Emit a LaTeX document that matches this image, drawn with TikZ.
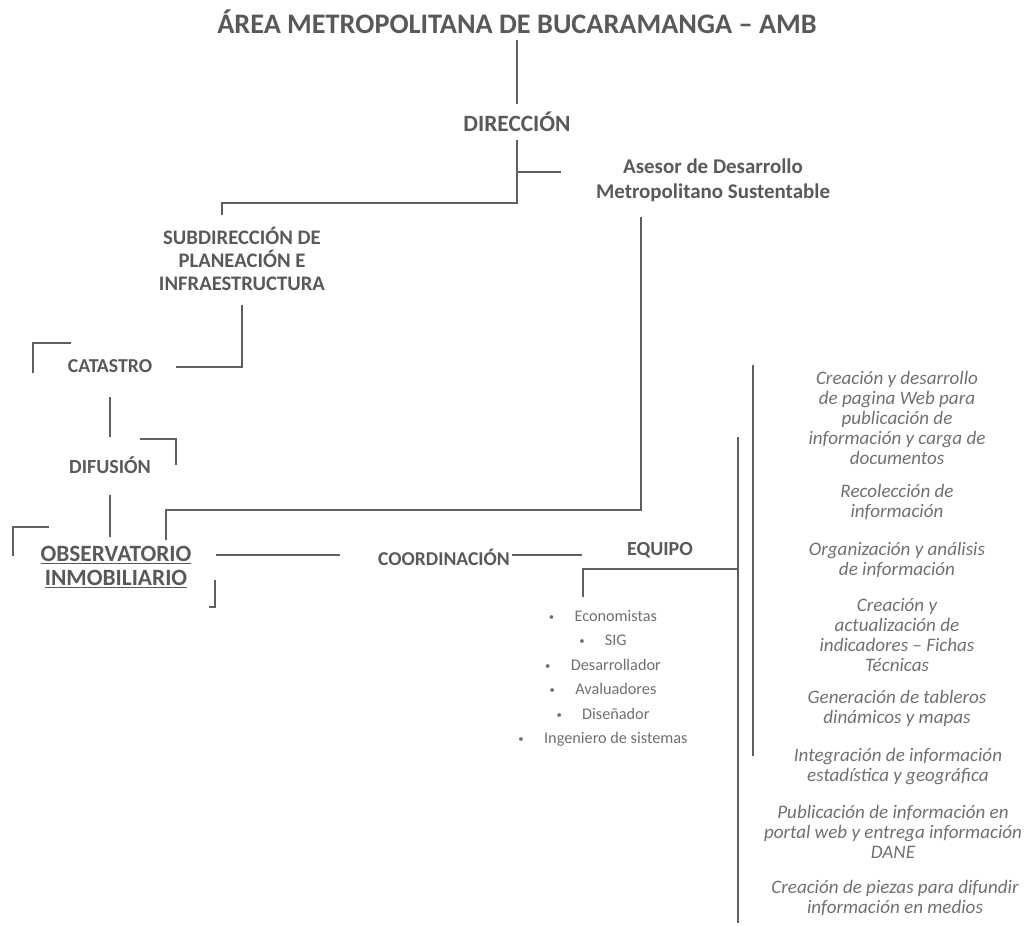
\documentclass[tikz,border=0pt]{standalone}
\usepackage{fontspec}
\setmainfont{Carlito}
\usetikzlibrary{calc}
\definecolor{txt}{HTML}{595959}
\definecolor{ltxt}{HTML}{707070}
\definecolor{ln}{HTML}{5F5F5F}
\newcommand{\fs}[2]{\fontsize{#1}{#2}\selectfont}
\newcommand{\bul}{{\fs{8}{8}\raisebox{0.15ex}{•}}\hspace{1.25em}}
\begin{document}
\begin{tikzpicture}[x=0.75pt,y=-0.75pt,
  conn/.style={draw=ln,line width=1.3pt},
  hd/.style={text=txt,font=\bfseries,inner sep=0pt,align=center},
  act/.style={text=ltxt,font=\itshape\fs{14.3}{15},inner sep=0pt,align=center},
  mem/.style={text=ltxt,font=\fs{12.2}{13},inner sep=0pt,anchor=base}]
\useasboundingbox (0,0) rectangle (1032,926);
% nodes
\node[hd,font=\bfseries\fs{21.2}{25}] (title) at (517,22) {ÁREA METROPOLITANA DE BUCARAMANGA – AMB};
\node[hd,font=\bfseries\fs{17.5}{21}] (dir) at (517,122) {DIRECCIÓN};
\node[hd,font=\bfseries\fs{15.7}{19}] (ase) at (713,180) {Asesor de Desarrollo\\Metropolitano Sustentable};
\node[hd,font=\bfseries\fs{15.5}{17.3}] (sub) at (242,259) {SUBDIRECCIÓN DE\\PLANEACIÓN E\\INFRAESTRUCTURA};
\node[hd,font=\bfseries\fs{14.8}{17}] (cat) at (110,366) {CATASTRO};
\node[hd,font=\bfseries\fs{15}{17}] (dif) at (110,465) {DIFUSIÓN};
\node[hd,font=\bfseries\fs{17.5}{18}] (obs) at (116,567) {\underline{OBSERVATORIO}\\[0pt]\underline{INMOBILIARIO}};
\node[hd,font=\bfseries\fs{14.7}{17}] (coo) at (444,557) {COORDINACIÓN};
\node[hd,font=\bfseries\fs{15}{17}] (equ) at (660,550) {EQUIPO};
% team members
\node[mem] (m1) at (603,621) {\bul Economistas};
\node[mem] (m2) at (603,645) {\bul SIG};
\node[mem] (m3) at (603,670) {\bul Desarrollador};
\node[mem] (m4) at (603,694) {\bul Avaluadores};
\node[mem] (m5) at (603,719) {\bul Diseñador};
\node[mem] (m6) at (603,743) {\bul Ingeniero de sistemas};
% activities
\node[act] (a1) at (897,418) {Creación y desarrollo\\de pagina Web para\\publicación de\\información y carga de\\documentos};
\node[act] (a2) at (897,502) {Recolección de\\información};
\node[act] (a3) at (897,560) {Organización y análisis\\de información};
\node[act] (a4) at (897,635) {Creación y\\actualización de\\indicadores – Fichas\\Técnicas};
\node[act] (a5) at (897,708) {Generación de tableros\\dinámicos y mapas};
\node[act] (a6) at (898,766) {Integración de información\\estadística y geográfica};
\node[act] (a7) at (893,832) {Publicación de información en\\portal web y entrega información\\DANE};
\node[act] (a8) at (895,898) {Creación de piezas para difundir\\información en medios};
% connector coordinates
\coordinate (t1) at (517,40);
\coordinate (d1) at (517,104);
\coordinate (d2) at (517,140);
\coordinate (d3) at (517,203);
\coordinate (d4) at (222,203);
\coordinate (s1) at (222,215);
\coordinate (dA) at (517,172);
\coordinate (aA) at (561,172);
\coordinate (as1) at (641,217);
\coordinate (as2) at (641,510);
\coordinate (as3) at (166,510);
\coordinate (ob1) at (166,540);
\coordinate (s2) at (242,305);
\coordinate (s3) at (242,367);
\coordinate (c1) at (176,367);
\coordinate (c2) at (110,397);
\coordinate (f1) at (110,437);
\coordinate (f2) at (110,495);
\coordinate (ob2) at (110,537);
\coordinate (ob3) at (216,555);
\coordinate (co1) at (340,555);
\coordinate (co2) at (512,555);
\coordinate (eq1) at (582,555);
\coordinate (eq2) at (738,569);
\coordinate (eq3) at (583,569);
\coordinate (eq4) at (583,597);
% connectors
\draw[conn] (t1) -- (d1);
\draw[conn] (d2) -- (d3) -- (d4) -- (s1);
\draw[conn] (dA) -- (aA);
\draw[conn] (as1) -- (as2) -- (as3) -- (ob1);
\draw[conn] (s2) -- (s3) -- (c1);
\draw[conn] (c2) -- (f1);
\draw[conn] (f2) -- (ob2);
\draw[conn] (ob3) -- (co1);
\draw[conn] (co2) -- (eq1);
\draw[conn] (eq2) -- (eq3) -- (eq4);
% vertical bars at right
\draw[conn] (753,365) -- (753,756);
\draw[conn] (738,437) -- (738,923);
% corner brackets
\draw[conn] (33,373) -- (33,343) -- (71,343);
\draw[conn] (140,439) -- (176,439) -- (176,465);
\draw[conn] (13,556) -- (13,527) -- (49,527);
\draw[conn] (215,580) -- (215,607) -- (209,607);
\end{tikzpicture}
\end{document}
